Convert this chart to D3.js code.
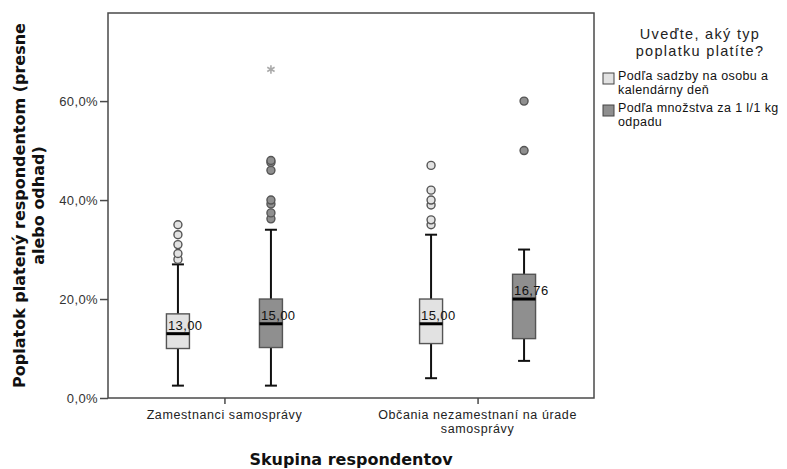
<!DOCTYPE html>
<html>
<head>
<meta charset="utf-8">
<script src="https://cdn.jsdelivr.net/npm/d3@7"></script>
<style>
  body { margin: 0; background: #fff; }
  svg { display: block; }
  text { font-family: "Liberation Sans", Arial, sans-serif; }
  .title { font-family: "DejaVu Sans", Verdana, sans-serif; font-weight: bold; }
</style>
</head>
<body>
<div id="chart"></div>
<script>
// data
const categories = ['Zamestnanci samosprávy', 'Občania nezamestnaní na úrade samosprávy'];
const categoryLines = [['Zamestnanci samosprávy'], ['Občania nezamestnaní na úrade', 'samosprávy']];
const series = ['Podľa sadzby na osobu a kalendárny deň', 'Podľa množstva za 1 l/1 kg odpadu'];
const seriesLines = [['Podľa sadzby na osobu a', 'kalendárny deň'], ['Podľa množstva za 1 l/1 kg', 'odpadu']];
const seriesColors = ['#e2e2e2', '#8f8f8f'];

// [group][series] -> [low whisker, q1, median, q3, high whisker]
const boxStats = [
    [[2.5, 10, 13, 17, 27], [2.5, 10.2, 15, 20, 34]],
    [[4, 11, 15, 20, 33], [7.5, 12, 20, 25, 30]],
];
const outliers = [
    [[28, 29.2, 31, 33, 35], [36.2, 37.4, 39.2, 40, 46, 47.6, 48]],
    [[35, 36, 39, 40, 42, 47], [50, 60]],
];
const extremes = [
    [[], [66.4]],
    [[], []],
];
const boxLabels = [['13,00', '15,00'], ['15,00', '16,76']];
const yTicks = [0, 20, 40, 60];

const WIDTH = 787;
const HEIGHT = 469;
const FRAME = { LEFT: 108, RIGHT: 594, TOP: 13, BOTTOM: 398 };
const BOX_W = 23;

const svg = d3.select('#chart')
    .append('svg')
    .attr('width', WIDTH)
    .attr('height', HEIGHT);

const yScale = d3.scaleLinear()
    .domain([0, 77.8])
    .range([FRAME.BOTTOM, FRAME.TOP]);

const xScale = d3.scalePoint()
    .domain(categories)
    .range([FRAME.LEFT, FRAME.RIGHT])
    .padding(0.46);

const inner = d3.scalePoint()
    .domain(series)
    .range([-46.5, 46.5]);

// frame
svg.append('rect')
    .attr('x', FRAME.LEFT)
    .attr('y', FRAME.TOP)
    .attr('width', FRAME.RIGHT - FRAME.LEFT)
    .attr('height', FRAME.BOTTOM - FRAME.TOP)
    .attr('fill', 'none')
    .attr('stroke', '#4a4a4a')
    .attr('stroke-width', 1.5);

// y axis
const yAxis = svg.append('g')
    .attr('transform', `translate(${FRAME.LEFT},0)`)
    .call(d3.axisLeft(yScale).tickValues(yTicks).tickSize(8).tickPadding(2)
        .tickFormat((d) => d3.format('.1f')(d).replace('.', ',') + '%'));
yAxis.select('.domain').remove();
yAxis.selectAll('line').attr('stroke', '#4a4a4a').attr('stroke-width', 1.5);
yAxis.selectAll('text')
    .attr('fill', '#333')
    .style('font-size', '13px')
    .style('letter-spacing', '0.4px')
    .style('font-family', '"Liberation Sans", Arial, sans-serif');

// x axis
const xAxis = svg.append('g')
    .attr('transform', `translate(0,${FRAME.BOTTOM})`)
    .call(d3.axisBottom(xScale).tickSize(6).tickFormat(''));
xAxis.select('.domain').remove();
xAxis.selectAll('line').attr('stroke', '#4a4a4a').attr('stroke-width', 1.5);

categories.forEach((c, i) => {
    const t = svg.append('text')
        .attr('x', xScale(c))
        .attr('y', FRAME.BOTTOM + 21)
        .attr('text-anchor', 'middle')
        .attr('fill', '#222')
        .style('font-size', '12.5px')
        .style('letter-spacing', '0.6px');
    categoryLines[i].forEach((line, j) => {
        t.append('tspan')
            .attr('x', xScale(c))
            .attr('dy', j === 0 ? 0 : 14)
            .text(line);
    });
});

// boxes
categories.forEach((c, gi) => {
    series.forEach((s, si) => {
        const cx = xScale(c) + inner(s);
        const [lo, q1, med, q3, hi] = boxStats[gi][si];
        const g = svg.append('g');

        g.append('line')
            .attr('x1', cx).attr('x2', cx)
            .attr('y1', yScale(lo)).attr('y2', yScale(q1))
            .attr('stroke', '#111').attr('stroke-width', 2);
        g.append('line')
            .attr('x1', cx).attr('x2', cx)
            .attr('y1', yScale(q3)).attr('y2', yScale(hi))
            .attr('stroke', '#111').attr('stroke-width', 2);
        [lo, hi].forEach((v) => {
            g.append('line')
                .attr('x1', cx - 6).attr('x2', cx + 6)
                .attr('y1', yScale(v)).attr('y2', yScale(v))
                .attr('stroke', '#111').attr('stroke-width', 2);
        });

        g.append('rect')
            .attr('x', cx - BOX_W / 2)
            .attr('y', yScale(q3))
            .attr('width', BOX_W)
            .attr('height', yScale(q1) - yScale(q3))
            .attr('fill', seriesColors[si])
            .attr('stroke', '#555')
            .attr('stroke-width', 1.4);

        g.append('line')
            .attr('x1', cx - BOX_W / 2).attr('x2', cx + BOX_W / 2)
            .attr('y1', yScale(med)).attr('y2', yScale(med))
            .attr('stroke', '#000').attr('stroke-width', 3);

        g.append('text')
            .attr('x', cx - 10)
            .attr('y', yScale(med) - 4)
            .attr('fill', '#111')
            .style('font-size', '13px')
            .style('letter-spacing', '0.4px')
            .text(boxLabels[gi][si]);

        g.selectAll('circle')
            .data(outliers[gi][si])
            .join('circle')
            .attr('cx', cx)
            .attr('cy', (d) => yScale(d))
            .attr('r', 4)
            .attr('fill', seriesColors[si])
            .attr('stroke', '#555')
            .attr('stroke-width', 1.4);

        g.selectAll('path.extreme')
            .data(extremes[gi][si])
            .join('path')
            .attr('class', 'extreme')
            .attr('transform', (d) => `translate(${cx},${yScale(d)})`)
            .attr('d', d3.symbol(d3.symbolAsterisk, 50)())
            .attr('fill', 'none')
            .attr('stroke', '#aaa')
            .attr('stroke-width', 1.6);
    });
});

// axis titles
svg.append('text')
    .attr('class', 'title')
    .attr('x', (FRAME.LEFT + FRAME.RIGHT) / 2)
    .attr('y', 465)
    .attr('text-anchor', 'middle')
    .attr('fill', '#111')
    .style('font-size', '16px')
    .text('Skupina respondentov');

const yTitle = svg.append('text')
    .attr('class', 'title')
    .attr('transform', `translate(25,${(FRAME.TOP + FRAME.BOTTOM) / 2}) rotate(-90)`)
    .attr('text-anchor', 'middle')
    .attr('fill', '#111')
    .style('font-size', '16px');
['Poplatok platený respondentom (presne', 'alebo odhad)'].forEach((line, i) => {
    yTitle.append('tspan')
        .attr('x', 0)
        .attr('dy', i === 0 ? 0 : 19)
        .text(line);
});

// legend
const legend = svg.append('g');
['Uveďte, aký typ', 'poplatku platíte?'].forEach((line, i) => {
    legend.append('text')
        .attr('x', 700)
        .attr('y', 39 + i * 17)
        .attr('text-anchor', 'middle')
        .attr('fill', '#222')
        .style('font-size', '14.5px')
        .style('letter-spacing', '1.3px')
        .text(line);
});
series.forEach((s, i) => {
    const y0 = 72 + i * 32;
    legend.append('rect')
        .attr('x', 603)
        .attr('y', y0 + 1)
        .attr('width', 11)
        .attr('height', 11)
        .attr('fill', seriesColors[i])
        .attr('stroke', '#444')
        .attr('stroke-width', 1);
    seriesLines[i].forEach((line, j) => {
        legend.append('text')
            .attr('x', 618)
            .attr('y', y0 + 8 + j * 14)
            .attr('fill', '#111')
            .style('font-size', '12.5px')
            .style('letter-spacing', '0.4px')
            .text(line);
    });
});
</script>
</body>
</html>
